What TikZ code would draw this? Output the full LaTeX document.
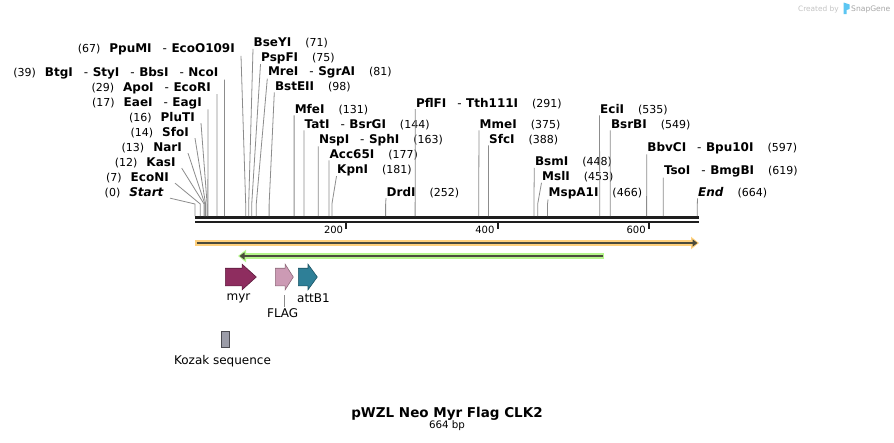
\documentclass[tikz,border=0pt]{standalone}
\usepackage{fontspec}
\setmainfont{DejaVu Sans}
\usetikzlibrary{arrows.meta,shapes.arrows}

\definecolor{cutgray}{HTML}{8C8C8C}
\definecolor{barblack}{HTML}{1E1E1E}
\definecolor{orangeband}{HTML}{FFD07C}
\definecolor{greenband}{HTML}{B5F58B}
\definecolor{darkband}{HTML}{4B4B3C}
\definecolor{myrfill}{HTML}{8E2D5F}
\definecolor{myredge}{HTML}{5C1C3D}
\definecolor{flagfill}{HTML}{CC9AB4}
\definecolor{flagedge}{HTML}{8C6878}
\definecolor{attfill}{HTML}{2E7F97}
\definecolor{attedge}{HTML}{1D5464}
\definecolor{kozakfill}{HTML}{9B9CA8}
\definecolor{kozakedge}{HTML}{4A4A50}
\definecolor{wmgray}{HTML}{C4C4C4}
\definecolor{wmdark}{HTML}{A6A6A6}
\definecolor{logoblue}{HTML}{5CC6F2}

% base pair -> x position
\newcommand{\bpx}[1]{195+0.7565*#1}
\newcommand{\cutpos}[1]{{\fontsize{11}{13}\selectfont(#1)}}
\newcommand{\sitesep}{\hspace{11pt}-\hspace{4.5pt}}

\begin{document}
\begin{tikzpicture}[
    x=1pt, y=-1pt,
    >=latex,
    site/.style={font=\fontsize{12}{14}\selectfont, inner sep=0.5pt, anchor=base west},
    leftsite/.style={font=\fontsize{12}{14}\selectfont, inner ysep=0.5pt, inner xsep=6pt, anchor=base east},
    cut/.style={draw=cutgray, line width=0.8pt},
    feature/.style={single arrow, line width=0.6pt, inner sep=0pt, text width=0pt,
                    text height=8.5pt, text depth=8.5pt, anchor=tail,
                    single arrow head extend=4pt, single arrow head indent=0pt},
    featlabel/.style={font=\fontsize{12}{14}\selectfont, inner sep=0pt}
  ]
  \fill[white] (0,0) rectangle (894,442);
  \useasboundingbox (0,0) rectangle (894,442);

  % Sequence bar
  \coordinate (seq-l) at (195,217.5);
  \coordinate (seq-r) at (699,217.5);
  \draw[barblack, line width=3pt] (seq-l) -- (seq-r);
  \draw[barblack, line width=1.5pt] ([yshift=-4.5pt]seq-l) -- ([yshift=-4.5pt]seq-r);
  \coordinate (t200) at ({\bpx{200}},221.5);
  \coordinate (t400) at ({\bpx{400}},221.5);
  \coordinate (t600) at ({\bpx{600}},221.5);
  \draw[barblack, line width=2pt] (t200) -- ++(0,7);
  \draw[barblack, line width=2pt] (t400) -- ++(0,7);
  \draw[barblack, line width=2pt] (t600) -- ++(0,7);
  \node[font=\fontsize{10}{12}\selectfont, anchor=base east, inner sep=0pt] (l200) at ([shift={(-3,11.5)}]t200) {200};
  \node[font=\fontsize{10}{12}\selectfont, anchor=base east, inner sep=0pt] (l400) at ([shift={(-3,11.5)}]t400) {400};
  \node[font=\fontsize{10}{12}\selectfont, anchor=base east, inner sep=0pt] (l600) at ([shift={(-3,11.5)}]t600) {600};

  % Sites left of the bar start
  \node[leftsite] (ppumi) at (241,52.6) {\cutpos{67}\hspace{9pt}\textbf{PpuMI}\sitesep\textbf{EcoO109I}};
  \node[leftsite] (ncoi) at (224.5,76.3) {\cutpos{39}\hspace{9pt}\textbf{BtgI}\sitesep\textbf{StyI}\sitesep\textbf{BbsI}\sitesep\textbf{NcoI}};
  \node[leftsite] (ecori) at (217,91) {\cutpos{29}\hspace{9pt}\textbf{ApoI}\sitesep\textbf{EcoRI}};
  \node[leftsite] (eagi) at (208,106) {\cutpos{17}\hspace{9pt}\textbf{EaeI}\sitesep\textbf{EagI}};
  \node[leftsite] (pluti) at (201,121) {\cutpos{16}\hspace{9pt}\textbf{PluTI}};
  \node[leftsite] (sfoi) at (195,136) {\cutpos{14}\hspace{9pt}\textbf{SfoI}};
  \node[leftsite] (nari) at (188,151) {\cutpos{13}\hspace{9pt}\textbf{NarI}};
  \node[leftsite] (kasi) at (181.7,166) {\cutpos{12}\hspace{9pt}\textbf{KasI}};
  \node[leftsite] (econi) at (175,181) {\cutpos{7}\hspace{9pt}\textbf{EcoNI}};
  \node[leftsite] (startl) at (170,196) {\cutpos{0}\hspace{9pt}\textbf{\textit{Start}}};

  % Sites right of their cut
  \node[site] (bseyi) at (253,46.8) {\textbf{BseYI}\hspace{14pt}\cutpos{71}};
  \node[site] (pspfi) at (260.5,61) {\textbf{PspFI}\hspace{14pt}\cutpos{75}};
  \node[site] (sgrai) at (267.3,75.3) {\textbf{MreI}\sitesep\textbf{SgrAI}\hspace{14pt}\cutpos{81}};
  \node[site] (bsteii) at (274.3,90.3) {\textbf{BstEII}\hspace{14pt}\cutpos{98}};
  \node[site] (mfei) at (294.1,113.3) {\textbf{MfeI}\hspace{14pt}\cutpos{131}};
  \node[site] (bsrgi) at (304,128.3) {\textbf{TatI}\sitesep\textbf{BsrGI}\hspace{14pt}\cutpos{144}};
  \node[site] (sphi) at (318.3,143.3) {\textbf{NspI}\sitesep\textbf{SphI}\hspace{14pt}\cutpos{163}};
  \node[site] (acc65i) at (329,158.3) {\textbf{Acc65I}\hspace{14pt}\cutpos{177}};
  \node[site] (kpni) at (336.5,173) {\textbf{KpnI}\hspace{14pt}\cutpos{181}};
  \node[site] (drdi) at (386,196) {\textbf{DrdI}\hspace{14pt}\cutpos{252}};
  \node[site] (tth111i) at (415.3,107) {\textbf{PflFI}\sitesep\textbf{Tth111I}\hspace{14pt}\cutpos{291}};
  \node[site] (mmei) at (479,128.3) {\textbf{MmeI}\hspace{14pt}\cutpos{375}};
  \node[site] (sfci) at (488.5,143.3) {\textbf{SfcI}\hspace{14pt}\cutpos{388}};
  \node[site] (bsmi) at (534.3,165.6) {\textbf{BsmI}\hspace{14pt}\cutpos{448}};
  \node[site] (msli) at (541.5,180.6) {\textbf{MslI}\hspace{14pt}\cutpos{453}};
  \node[site] (mspa1i) at (548,196.3) {\textbf{MspA1I}\hspace{14pt}\cutpos{466}};
  \node[site] (ecii) at (599.5,113.3) {\textbf{EciI}\hspace{14pt}\cutpos{535}};
  \node[site] (bsrbi) at (610.3,128.3) {\textbf{BsrBI}\hspace{14pt}\cutpos{549}};
  \node[site] (bpu10i) at (646.7,151.3) {\textbf{BbvCI}\sitesep\textbf{Bpu10I}\hspace{14pt}\cutpos{597}};
  \node[site] (bmgbi) at (663.3,174.3) {\textbf{TsoI}\sitesep\textbf{BmgBI}\hspace{14pt}\cutpos{619}};
  \node[site] (endl) at (697.5,196.3) {\textbf{\textit{End}}\hspace{14pt}\cutpos{664}};

  % Cut positions on the bar
  \coordinate (ppumi-cut) at ({\bpx{67}},216);
  \coordinate (ncoi-cut) at ({\bpx{39}},216);
  \coordinate (ecori-cut) at ({\bpx{29}},216);
  \coordinate (eagi-cut) at ({\bpx{17}},216);
  \coordinate (pluti-cut) at ({\bpx{16}},216);
  \coordinate (sfoi-cut) at ({\bpx{14}},216);
  \coordinate (nari-cut) at ({\bpx{13}},216);
  \coordinate (kasi-cut) at ({\bpx{12}},216);
  \coordinate (econi-cut) at ({\bpx{7}},216);
  \coordinate (startl-cut) at ({\bpx{0}},216);
  \coordinate (bseyi-cut) at ({\bpx{71}},216);
  \coordinate (pspfi-cut) at ({\bpx{75}},216);
  \coordinate (sgrai-cut) at ({\bpx{81}},216);
  \coordinate (bsteii-cut) at ({\bpx{98}},216);
  \coordinate (mfei-cut) at ({\bpx{131}},216);
  \coordinate (bsrgi-cut) at ({\bpx{144}},216);
  \coordinate (sphi-cut) at ({\bpx{163}},216);
  \coordinate (acc65i-cut) at ({\bpx{177}},216);
  \coordinate (kpni-cut) at ({\bpx{181}},216);
  \coordinate (drdi-cut) at ({\bpx{252}},216);
  \coordinate (tth111i-cut) at ({\bpx{291}},216);
  \coordinate (mmei-cut) at ({\bpx{375}},216);
  \coordinate (sfci-cut) at ({\bpx{388}},216);
  \coordinate (bsmi-cut) at ({\bpx{448}},216);
  \coordinate (msli-cut) at ({\bpx{453}},216);
  \coordinate (mspa1i-cut) at ({\bpx{466}},216);
  \coordinate (ecii-cut) at ({\bpx{535}},216);
  \coordinate (bsrbi-cut) at ({\bpx{549}},216);
  \coordinate (bpu10i-cut) at ({\bpx{597}},216);
  \coordinate (bmgbi-cut) at ({\bpx{619}},216);
  \coordinate (endl-cut) at ({\bpx{664}},216);

  % Connections
  \draw[cut] (ppumi.south east) -- ([yshift=12pt]ppumi-cut) -- (ppumi-cut);
  \draw[cut] (ncoi.south east) -- ([yshift=12pt]ncoi-cut) -- (ncoi-cut);
  \draw[cut] (ecori.south east) -- ([yshift=12pt]ecori-cut) -- (ecori-cut);
  \draw[cut] (eagi.south east) -- ([yshift=12pt]eagi-cut) -- (eagi-cut);
  \draw[cut] (pluti.south east) -- ([yshift=12pt]pluti-cut) -- (pluti-cut);
  \draw[cut] (sfoi.south east) -- ([yshift=12pt]sfoi-cut) -- (sfoi-cut);
  \draw[cut] (nari.south east) -- ([yshift=12pt]nari-cut) -- (nari-cut);
  \draw[cut] (kasi.south east) -- ([yshift=12pt]kasi-cut) -- (kasi-cut);
  \draw[cut] (econi.south east) -- ([yshift=12pt]econi-cut) -- (econi-cut);
  \draw[cut] (startl.south east) -- ([yshift=12pt]startl-cut) -- (startl-cut);
  \draw[cut] (bseyi.south west) -- ([yshift=12pt]bseyi-cut) -- (bseyi-cut);
  \draw[cut] (pspfi.south west) -- ([yshift=12pt]pspfi-cut) -- (pspfi-cut);
  \draw[cut] (sgrai.south west) -- ([yshift=12pt]sgrai-cut) -- (sgrai-cut);
  \draw[cut] (bsteii.south west) -- ([yshift=12pt]bsteii-cut) -- (bsteii-cut);
  \draw[cut] (mfei.south west) -- ([yshift=12pt]mfei-cut) -- (mfei-cut);
  \draw[cut] (bsrgi.south west) -- ([yshift=12pt]bsrgi-cut) -- (bsrgi-cut);
  \draw[cut] (sphi.south west) -- ([yshift=12pt]sphi-cut) -- (sphi-cut);
  \draw[cut] (acc65i.south west) -- ([yshift=12pt]acc65i-cut) -- (acc65i-cut);
  \draw[cut] (kpni.south west) -- ([yshift=12pt]kpni-cut) -- (kpni-cut);
  \draw[cut] (drdi.south west) -- ([yshift=12pt]drdi-cut) -- (drdi-cut);
  \draw[cut] (tth111i.south west) -- ([yshift=12pt]tth111i-cut) -- (tth111i-cut);
  \draw[cut] (mmei.south west) -- ([yshift=12pt]mmei-cut) -- (mmei-cut);
  \draw[cut] (sfci.south west) -- ([yshift=12pt]sfci-cut) -- (sfci-cut);
  \draw[cut] (bsmi.south west) -- ([yshift=12pt]bsmi-cut) -- (bsmi-cut);
  \draw[cut] (msli.south west) -- ([yshift=12pt]msli-cut) -- (msli-cut);
  \draw[cut] (mspa1i.south west) -- ([yshift=12pt]mspa1i-cut) -- (mspa1i-cut);
  \draw[cut] (ecii.south west) -- ([yshift=12pt]ecii-cut) -- (ecii-cut);
  \draw[cut] (bsrbi.south west) -- ([yshift=12pt]bsrbi-cut) -- (bsrbi-cut);
  \draw[cut] (bpu10i.south west) -- ([yshift=12pt]bpu10i-cut) -- (bpu10i-cut);
  \draw[cut] (bmgbi.south west) -- ([yshift=12pt]bmgbi-cut) -- (bmgbi-cut);
  \draw[cut] (endl.south west) -- ([yshift=12pt]endl-cut) -- (endl-cut);

  % Feature bands
  \coordinate (orf-l) at (195,243);
  \coordinate (orf-r) at (699,243);
  \draw[orangeband, line width=6pt, -{Triangle[length=8pt,width=12pt]}] (orf-l) -- (orf-r);
  \draw[darkband, line width=2pt, -{Triangle[length=5pt,width=7pt]}, shorten <=1.5pt, shorten >=1.5pt] (orf-l) -- (orf-r);
  \coordinate (grn-l) at (238,256);
  \coordinate (grn-r) at (604,256);
  \draw[greenband, line width=6.5pt, -{Triangle[length=8pt,width=12pt]}] (grn-r) -- (grn-l);
  \draw[darkband, line width=2.5pt, -{Triangle[length=5pt,width=7pt]}, shorten <=1.5pt, shorten >=1.5pt] (grn-r) -- (grn-l);

  % Features
  \node[feature, fill=myrfill, draw=myredge, minimum height=31pt, single arrow tip angle=84] (myr) at (225,277) {};
  \node[feature, fill=flagfill, draw=flagedge, minimum height=18pt, single arrow tip angle=115] (flag) at (275,277) {};
  \node[feature, fill=attfill, draw=attedge, minimum height=19pt, single arrow tip angle=108] (attb) at (298,277) {};
  \node[featlabel] (myrlbl) at (238.5,298) {myr};
  \node[featlabel] (flaglbl) at (282.7,313.5) {FLAG};
  \node[featlabel] (attblbl) at (313.5,298) {attB1};
  \coordinate (flag-mid) at ([xshift=9.3pt]flag.tail);
  \draw[cutgray, line width=0.8pt, shorten <=18pt, shorten >=1.5pt] (flag-mid) -- (flaglbl.north -| flag-mid);
  \node[draw=kozakedge, fill=kozakfill, line width=0.6pt, minimum width=8pt, minimum height=16pt, inner sep=0pt] (kozak) at (225,339) {};
  \node[featlabel] (kozaklbl) at (222.5,361) {Kozak sequence};

  % Title
  \node[font=\fontsize{13.5}{16}\selectfont\bfseries, anchor=base, inner sep=0pt] (title) at (447,417.7) {pWZL Neo Myr Flag CLK2};
  \node[font=\fontsize{10.3}{12}\selectfont, anchor=base, inner sep=0pt] (length) at (447,428.5) {664 bp};

  % Watermark
  \node[font=\fontsize{7.4}{9}\selectfont, text=wmgray, anchor=base east, inner sep=0pt] (wm-by) at (839,11) {Created by};
  \fill[logoblue] (843.5,2.5) -- (849.5,4.5) -- (849.5,9) -- (846.5,10) -- (846.5,14) -- (843.5,14) -- cycle;
  \node[font=\fontsize{7.6}{9}\selectfont, text=wmdark, anchor=base west, inner sep=0pt] (wm-sg) at (851,11.5) {SnapGene};
\end{tikzpicture}
\end{document}
